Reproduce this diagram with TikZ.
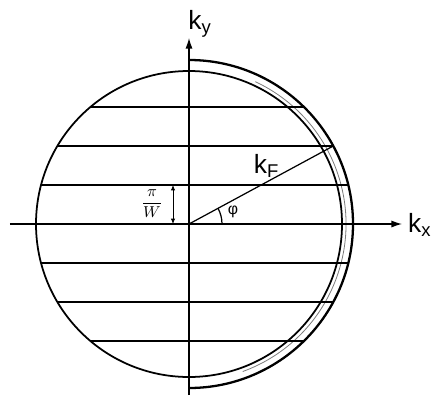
\documentclass[tikz,border=0pt]{standalone}
\usepackage{fontspec}
\setmainfont{Liberation Sans}
\usepackage{xcolor}
\usetikzlibrary{arrows.meta}
\definecolor{inkgray}{HTML}{7A7A7A}
\newcommand{\rin}{3.06}
\newcommand{\rout}{3.28}
\newcommand{\kyline}[1]{%
  \pgfmathsetmacro{\yy}{#1*0.78}%
  \pgfmathsetmacro{\xa}{-sqrt(\rin*\rin-\yy*\yy)}%
  \pgfmathsetmacro{\xb}{sqrt(\rout*\rout-\yy*\yy)}%
  \draw[line width=1.6pt] (\xa,\yy) -- (\xb,\yy);%
}
\tikzset{
  axis/.style={line width=0.7pt, -{Latex[length=6pt,width=4pt]}},
  klabel/.style={font=\fontsize{15}{17}\selectfont, inner sep=1pt}
}

\begin{document}
\begin{tikzpicture}
  \useasboundingbox (-3.78,-3.86) rectangle (4.92,4.48);
  \coordinate (O) at (0,0);
  % Fermi circle and shifted half
  \draw[line width=1pt] (O) circle (\rin);
  \draw[line width=0.45pt, inkgray] (-70:3.14) arc (-70:65:3.14);
  \draw[line width=1.3pt] (90:\rout) arc (90:-90:\rout);
  % allowed k_y lines
  \foreach \n in {-3,-2,-1,1,2,3}{\kyline{\n}}
  % axes
  \coordinate (xl) at (-3.58,0);
  \coordinate (xr) at (4.26,0);
  \coordinate (yb) at (0,-3.42);
  \coordinate (yt) at (0,3.72);
  \draw[axis] (xl) -- (xr);
  \draw[axis] (yb) -- (yt);
  \node[klabel, anchor=west] (kx) at (4.34,-0.02) {k\textsubscript{x}};
  \node[klabel, anchor=south] (ky) at (0.22,3.70) {k\textsubscript{y}};
  % k_F and angle
  \coordinate (kf) at ({sqrt(\rout*\rout-1.56*1.56)},1.56);
  \draw[line width=0.7pt] (O) -- (kf);
  \draw[line width=0.7pt] (0.66,0) arc (0:28.4:0.66);
  \node[font=\small] (phi) at (0.88,0.24) {φ};
  \node[klabel] (kF) at (1.55,1.16) {k\textsubscript{F}};
  % spacing pi/W
  \coordinate (wa) at (-0.32,0);
  \coordinate (wb) at (-0.32,0.78);
  \draw[line width=0.5pt, {Latex[length=3pt,width=2.5pt]}-{Latex[length=3pt,width=2.5pt]}] (wa) -- (wb);
  \node[font=\small, inner sep=0pt] (pw) at (-0.74,0.40) {$\displaystyle\frac{\pi}{W}$};
\end{tikzpicture}
\end{document}
